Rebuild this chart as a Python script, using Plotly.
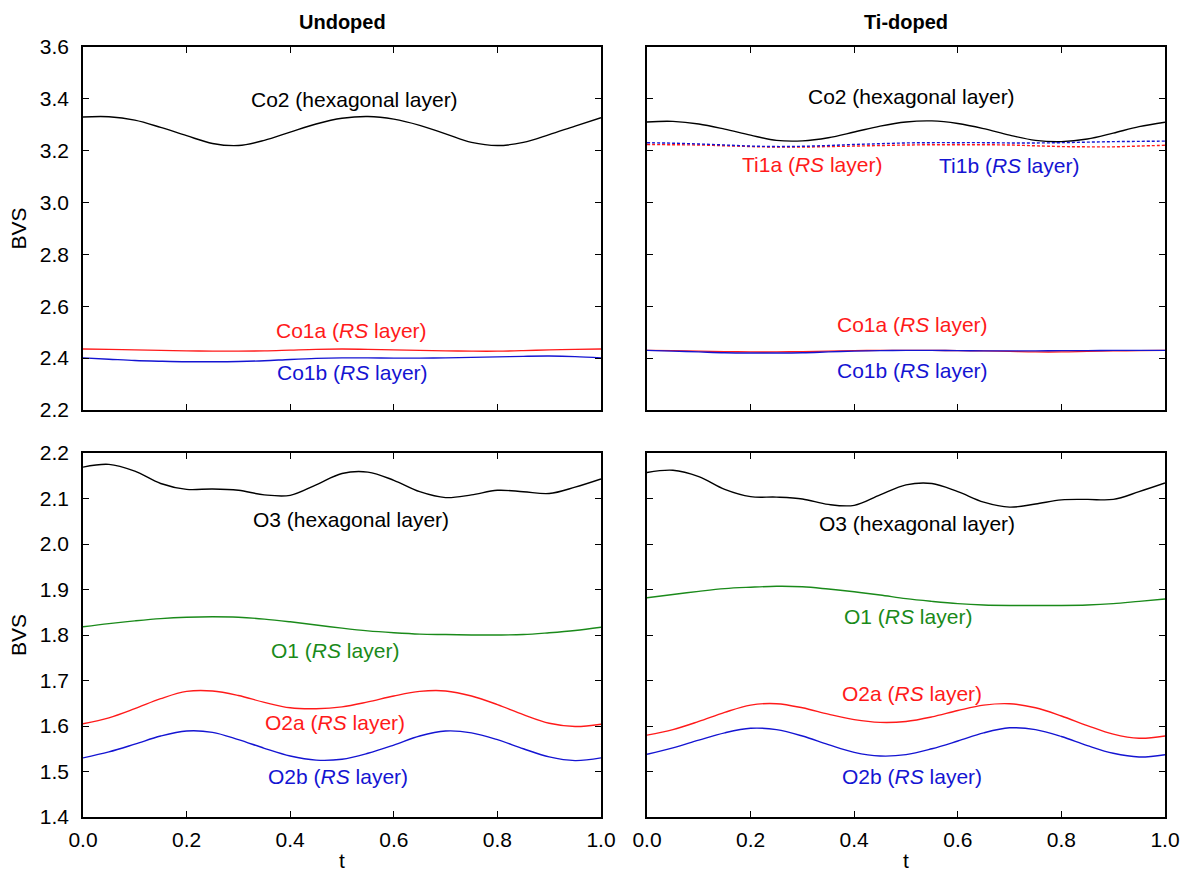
import plotly.graph_objects as go

t = [round(i * 0.05, 2) for i in range(21)]

# Undoped, top panel
co2_undoped = [3.330, 3.331, 3.318, 3.290, 3.258, 3.228, 3.220, 3.240, 3.272, 3.303, 3.325,
               3.332, 3.322, 3.298, 3.265, 3.232, 3.220, 3.232, 3.262, 3.295, 3.327]
co1a_undoped = [2.435, 2.434, 2.432, 2.430, 2.428, 2.427, 2.427, 2.428, 2.431, 2.434, 2.435,
                2.434, 2.432, 2.430, 2.428, 2.427, 2.427, 2.429, 2.432, 2.434, 2.435]
co1b_undoped = [2.401, 2.396, 2.391, 2.388, 2.386, 2.386, 2.387, 2.390, 2.395, 2.399, 2.401,
                2.401, 2.400, 2.400, 2.401, 2.403, 2.405, 2.407, 2.408, 2.406, 2.401]

# Ti-doped, top panel
co2_ti = [3.311, 3.313, 3.303, 3.283, 3.260, 3.240, 3.238, 3.250, 3.272, 3.295, 3.311,
          3.315, 3.305, 3.285, 3.260, 3.240, 3.235, 3.245, 3.268, 3.293, 3.310]
ti1a_ti = [3.224, 3.223, 3.222, 3.219, 3.216, 3.214, 3.214, 3.216, 3.218, 3.220, 3.222,
           3.223, 3.223, 3.223, 3.222, 3.219, 3.216, 3.215, 3.215, 3.218, 3.221]
ti1b_ti = [3.231, 3.229, 3.226, 3.222, 3.218, 3.216, 3.217, 3.220, 3.224, 3.227, 3.230,
           3.231, 3.231, 3.231, 3.230, 3.230, 3.231, 3.233, 3.235, 3.236, 3.237]
co1a_ti = [2.430, 2.429, 2.427, 2.425, 2.424, 2.424, 2.425, 2.427, 2.429, 2.430, 2.430,
           2.430, 2.429, 2.428, 2.426, 2.424, 2.424, 2.426, 2.428, 2.429, 2.430]
co1b_ti = [2.430, 2.427, 2.424, 2.421, 2.420, 2.420, 2.421, 2.424, 2.427, 2.429, 2.430,
           2.430, 2.429, 2.428, 2.428, 2.428, 2.429, 2.429, 2.430, 2.430, 2.430]

# Undoped, bottom panel
o3_undoped = [2.169, 2.175, 2.160, 2.133, 2.120, 2.121, 2.118, 2.108, 2.107, 2.130, 2.155,
              2.158, 2.140, 2.115, 2.102, 2.108, 2.118, 2.115, 2.111, 2.125, 2.143]
o1_undoped = [1.818, 1.825, 1.831, 1.836, 1.839, 1.840, 1.839, 1.835, 1.829, 1.822, 1.815,
              1.809, 1.805, 1.802, 1.801, 1.800, 1.800, 1.801, 1.805, 1.810, 1.817]
o2a_undoped = [1.605, 1.618, 1.638, 1.660, 1.676, 1.677, 1.667, 1.652, 1.640, 1.638, 1.642,
               1.653, 1.666, 1.676, 1.677, 1.666, 1.647, 1.625, 1.606, 1.599, 1.604]
o2b_undoped = [1.530, 1.543, 1.560, 1.578, 1.589, 1.586, 1.570, 1.551, 1.534, 1.525, 1.527,
               1.540, 1.558, 1.578, 1.589, 1.585, 1.570, 1.550, 1.532, 1.524, 1.530]

# Ti-doped, bottom panel
o3_ti = [2.157, 2.162, 2.148, 2.120, 2.104, 2.103, 2.099, 2.087, 2.085, 2.108, 2.130,
         2.133, 2.115, 2.092, 2.081, 2.088, 2.097, 2.098, 2.098, 2.115, 2.134]
o1_ti = [1.882, 1.889, 1.896, 1.902, 1.905, 1.907, 1.906, 1.901, 1.895, 1.888, 1.880,
         1.874, 1.869, 1.866, 1.865, 1.865, 1.865, 1.866, 1.869, 1.874, 1.879]
o2a_ti = [1.580, 1.592, 1.610, 1.630, 1.646, 1.649, 1.640, 1.626, 1.614, 1.608, 1.610,
          1.620, 1.634, 1.646, 1.649, 1.640, 1.622, 1.601, 1.582, 1.573, 1.578]
o2b_ti = [1.538, 1.552, 1.569, 1.585, 1.595, 1.592, 1.578, 1.559, 1.542, 1.534, 1.537,
          1.550, 1.567, 1.585, 1.596, 1.592, 1.577, 1.557, 1.540, 1.532, 1.537]

x_ticks = [0.0, 0.2, 0.4, 0.6, 0.8, 1.0]
top_ticks = [2.2, 2.4, 2.6, 2.8, 3.0, 3.2, 3.4, 3.6]
bottom_ticks = [1.4, 1.5, 1.6, 1.7, 1.8, 1.9, 2.0, 2.1, 2.2]

BLACK = "#000000"
RED = "#ff1a1a"
BLUE = "#1414d2"
GREEN = "#1a8a1a"
FONT = "Liberation Sans, Arial, sans-serif"
TICK_SIZE = 21
TEXT_SIZE = 21

fig = go.Figure()

def add(x_axis, y_axis, y, color, dash="solid"):
    fig.add_trace(go.Scatter(x=t, y=y, mode="lines", xaxis=x_axis, yaxis=y_axis,
                             line=dict(color=color, width=1.4, dash=dash, shape="spline", smoothing=1.0),
                             showlegend=False, hoverinfo="skip"))

add("x", "y", co2_undoped, BLACK)
add("x", "y", co1a_undoped, RED)
add("x", "y", co1b_undoped, BLUE)
add("x2", "y2", co2_ti, BLACK)
add("x2", "y2", ti1a_ti, RED, "3px,2px")
add("x2", "y2", ti1b_ti, BLUE, "3px,2px")
add("x2", "y2", co1a_ti, RED)
add("x2", "y2", co1b_ti, BLUE)
add("x3", "y3", o3_undoped, BLACK)
add("x3", "y3", o1_undoped, GREEN)
add("x3", "y3", o2a_undoped, RED)
add("x3", "y3", o2b_undoped, BLUE)
add("x4", "y4", o3_ti, BLACK)
add("x4", "y4", o1_ti, GREEN)
add("x4", "y4", o2a_ti, RED)
add("x4", "y4", o2b_ti, BLUE)

W, H = 1182, 875

def px(x):
    return x / W

def py(y):
    return 1 - y / H

xL = [px(83), px(601)]
xR = [px(647), px(1165)]
yT = [py(410), py(47)]
yB = [py(817), py(453)]

axis_common = dict(showline=True, linecolor="black", linewidth=1.5, mirror="ticks",
                   ticks="inside", ticklen=6, tickwidth=1.2, tickcolor="black",
                   showgrid=False, zeroline=False, automargin=False,
                   ticklabeloverflow="allow",
                   tickfont=dict(family=FONT, size=TICK_SIZE, color="black"))

def xax(domain, anchor, labels):
    d = dict(axis_common)
    d.update(domain=domain, anchor=anchor, range=[0, 1], tickvals=x_ticks,
             ticktext=[f"{v:.1f}" for v in x_ticks], showticklabels=labels,
             ticklabelstandoff=3)
    return d

def yax(domain, anchor, rng, ticks, labels):
    d = dict(axis_common)
    d.update(domain=domain, anchor=anchor, range=rng, tickvals=ticks,
             ticktext=[f"{v:.1f}" for v in ticks], showticklabels=labels,
             ticklabelstandoff=8)
    return d

fig.update_layout(
    width=W, height=H,
    margin=dict(l=0, r=0, t=0, b=0),
    paper_bgcolor="white", plot_bgcolor="white",
    font=dict(family=FONT, size=TEXT_SIZE, color="black"),
    hovermode=False,
    xaxis=xax(xL, "y", False),
    yaxis=yax(yT, "x", [2.2, 3.6], top_ticks, True),
    xaxis2=xax(xR, "y2", False),
    yaxis2=yax(yT, "x2", [2.2, 3.6], top_ticks, False),
    xaxis3=xax(xL, "y3", True),
    yaxis3=yax(yB, "x3", [1.4, 2.2], bottom_ticks, True),
    xaxis4=xax(xR, "y4", True),
    yaxis4=yax(yB, "x4", [1.4, 2.2], bottom_ticks, False),
)

def ann(xref, yref, x, y, text, color):
    fig.add_annotation(x=x, y=y, xref=xref, yref=yref, text=text, showarrow=False,
                       font=dict(family=FONT, size=TEXT_SIZE, color=color), xanchor="center", yanchor="middle")

RS = "(<i>RS</i> layer)"
ann("x", "y", 0.525, 3.396, "Co2 (hexagonal layer)", BLACK)
ann("x", "y", 0.519, 2.508, "Co1a " + RS, RED)
ann("x", "y", 0.521, 2.346, "Co1b " + RS, BLUE)

ann("x2", "y2", 0.510, 3.408, "Co2 (hexagonal layer)", BLACK)
ann("x2", "y2", 0.319, 3.146, "Ti1a " + RS, RED)
ann("x2", "y2", 0.699, 3.142, "Ti1b " + RS, BLUE)
ann("x2", "y2", 0.512, 2.531, "Co1a " + RS, RED)
ann("x2", "y2", 0.512, 2.354, "Co1b " + RS, BLUE)

ann("x3", "y3", 0.517, 2.053, "O3 (hexagonal layer)", BLACK)
ann("x3", "y3", 0.486, 1.767, "O1 " + RS, GREEN)
ann("x3", "y3", 0.486, 1.607, "O2a " + RS, RED)
ann("x3", "y3", 0.493, 1.489, "O2b " + RS, BLUE)

ann("x4", "y4", 0.521, 2.044, "O3 (hexagonal layer)", BLACK)
ann("x4", "y4", 0.504, 1.840, "O1 " + RS, GREEN)
ann("x4", "y4", 0.512, 1.672, "O2a " + RS, RED)
ann("x4", "y4", 0.512, 1.489, "O2b " + RS, BLUE)

# panel titles
fig.add_annotation(x=(xL[0] + xL[1]) / 2, y=py(22), xref="paper", yref="paper", text="<b>Undoped</b>",
                   showarrow=False, font=dict(family=FONT, size=20, color="black"),
                   xanchor="center", yanchor="middle")
fig.add_annotation(x=(xR[0] + xR[1]) / 2, y=py(22), xref="paper", yref="paper", text="<b>Ti-doped</b>",
                   showarrow=False, font=dict(family=FONT, size=20, color="black"),
                   xanchor="center", yanchor="middle")

# axis titles
for yd in (yT, yB):
    fig.add_annotation(x=px(18), y=(yd[0] + yd[1]) / 2, xref="paper", yref="paper", text="BVS",
                       textangle=-90, showarrow=False, font=dict(family=FONT, size=TEXT_SIZE, color="black"),
                       xanchor="center", yanchor="middle")
for xd in (xL, xR):
    fig.add_annotation(x=(xd[0] + xd[1]) / 2, y=py(860), xref="paper", yref="paper", text="t",
                       showarrow=False, font=dict(family=FONT, size=TEXT_SIZE, color="black"),
                       xanchor="center", yanchor="middle")

# remove the default 8px page margin so the 1182x875 figure fills the window exactly
fig.write_html(
    "out.html",
    config={"displayModeBar": False},
    post_script="document.body.style.margin='0';document.body.style.overflow='hidden';"
                "document.documentElement.style.overflow='hidden';",
)
